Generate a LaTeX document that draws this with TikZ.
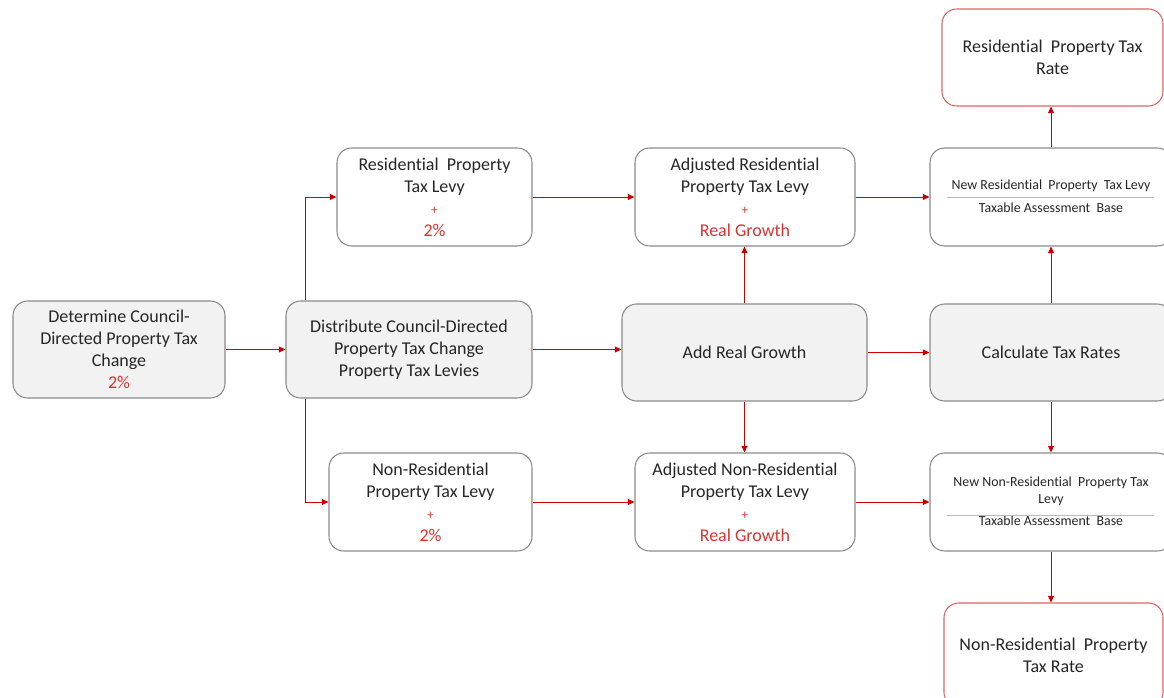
\documentclass[tikz,border=0pt]{standalone}
\usepackage{fontspec}
\setmainfont{Carlito}[Ligatures={NoCommon}]
\usetikzlibrary{arrows.meta,calc}
\definecolor{boxfill}{HTML}{F2F2F2}
\definecolor{bordergray}{HTML}{8A8A8A}
\definecolor{arrred}{HTML}{C80000}
\definecolor{redtext}{HTML}{DC3232}
\definecolor{redborder}{HTML}{E06464}
\definecolor{textc}{HTML}{262626}
\tikzset{
  sz/.style 2 args={minimum width={#1*0.75pt},minimum height={#2*0.75pt}},
  box/.style={draw=bordergray,rounded corners=11pt,line width=0.8pt,align=center,
    text=textc,inner sep=0pt,font=\fontsize{13.5}{16.5}\selectfont},
  gbox/.style={box,fill=boxfill},
  rbox/.style={box,draw=redborder},
  small/.style={text=textc,align=center,inner sep=0pt,font=\fontsize{10.4}{12.5}\selectfont},
  fracline/.style={draw=bordergray!60,line width=0.4pt},
  arr/.style={draw=arrred,line width=0.6pt,-{Triangle[length=5pt,width=4.5pt]}},
}
\newcommand{\rt}[1]{\textcolor{redtext}{#1}}
\newcommand{\pl}{\textcolor{redtext}{\fontsize{10}{16.5}\selectfont +}}
\begin{document}
\begin{tikzpicture}[x=0.75pt,y=-0.75pt]
\useasboundingbox (0,0) rectangle (1164,698);
\clip (0,0) rectangle (1164,698);
% nodes
\node[gbox,sz={212}{97}] (A) at (119,349.5) {Determine Council-\\Directed Property Tax\\Change\\\rt{2\%}};
\node[gbox,sz={246}{97}] (B) at (409,349.5) {Distribute Council-Directed\\Property Tax Change\\Property Tax Levies};
\node[box,sz={195}{98}] (C) at (434.5,197) {Residential\ \ Property\\Tax Levy\\\pl\\\rt{2\%}};
\node[box,sz={203}{98}] (D) at (430.5,502) {Non-Residential\\Property Tax Levy\\\pl\\\rt{2\%}};
\node[box,sz={220}{98}] (E) at (745,197) {Adjusted Residential\\Property Tax Levy\\\pl\\\rt{Real Growth}};
\node[gbox,sz={245}{97}] (F) at (744.5,352.5) {Add Real Growth};
\node[box,sz={220}{98}] (G) at (745,502) {Adjusted Non-Residential\\Property Tax Levy\\\pl\\\rt{Real Growth}};
\node[box,sz={242}{98}] (H) at (1051,197) {};
\node[gbox,sz={242}{97}] (I) at (1051,352.5) {Calculate Tax Rates};
\node[box,sz={242}{98}] (J) at (1051,502) {};
\node[rbox,sz={221}{97}] (K) at (1052.5,57.5) {Residential\ \ Property Tax\\Rate};
\node[rbox,sz={219}{104}] (L) at (1053.5,655) {Non-Residential\ \ Property\\Tax Rate};
% fraction texts
\node[small] (Hn) at (1051,186) {New Residential\ \ Property\ \ Tax Levy};
\node[small] (Hd) at (1051,208) {Taxable Assessment\ \ Base};
\draw[fracline] ([xshift=13.5pt]H.west) -- ([xshift=-14pt]H.east);
\node[small] (Jn) at (1051,491.5) {New Non-Residential\ \ Property Tax\\Levy};
\node[small] (Jd) at (1051,521) {Taxable Assessment\ \ Base};
\draw[fracline] ([xshift=13.5pt,yshift=-9.75pt]J.west) -- ([xshift=-14pt,yshift=-9.75pt]J.east);
% connectors
\draw[arr] (A) -- (B);
\draw[arr] ([xshift=15pt]B.north west) |- (C.west);
\draw[arr] ([xshift=15pt]B.south west) |- (D.west);
\draw[arr] (C) -- (E);
\draw[arr] (D) -- (G);
\draw[arr] (B.east) -- (B.east -| F.west);
\draw[arr] (F.north) -- (F.north |- E.south);
\draw[arr] (F.south) -- (F.south |- G.north);
\draw[arr] (E) -- (H);
\draw[arr] (F) -- (I);
\draw[arr] (G) -- (J);
\draw[arr] (I.north) -- (H.south);
\draw[arr] (I.south) -- (J.north);
\draw[arr] (H.north) -- (H.north |- K.south);
\draw[arr] (J.south) -- (J.south |- L.north);
\end{tikzpicture}
\end{document}
